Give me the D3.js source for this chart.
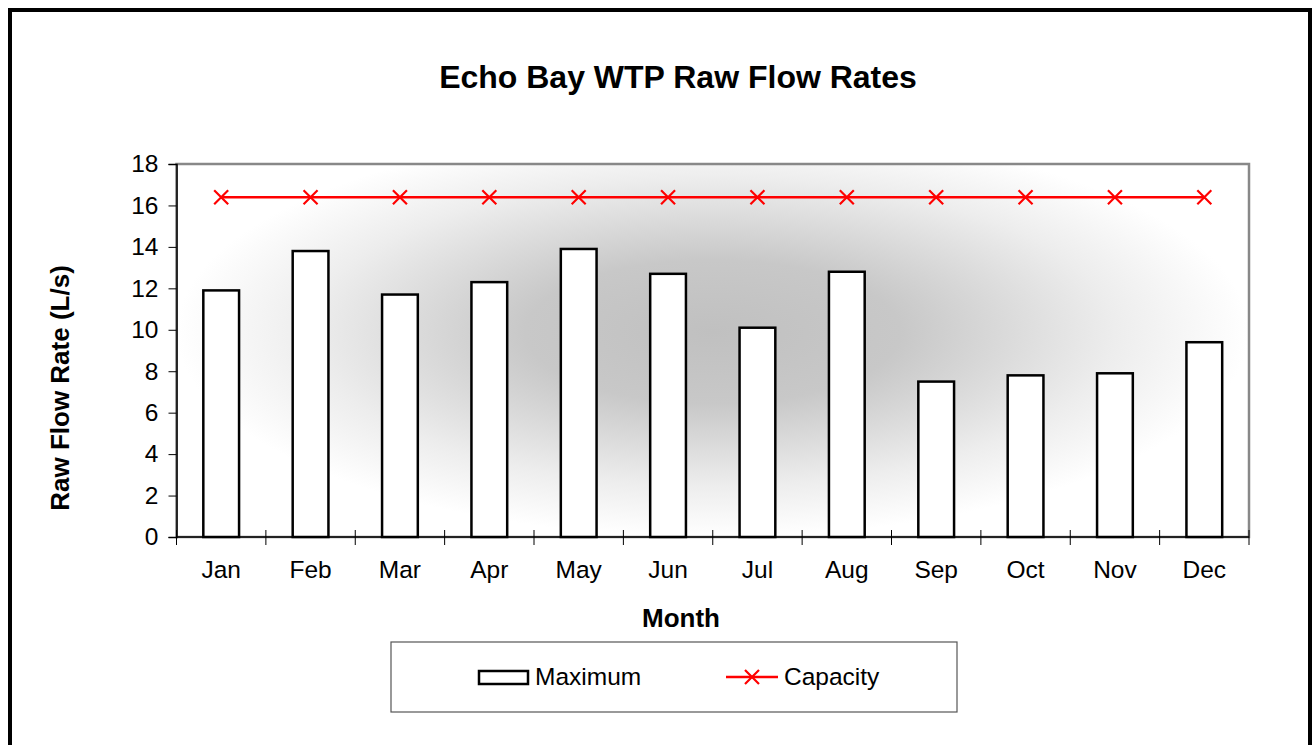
<!DOCTYPE html>
<html>
<head>
<meta charset="utf-8">
<script src="https://cdn.jsdelivr.net/npm/d3@7"></script>
<style>
    body { margin: 0; background: #fff; }
    svg { display: block; font-family: "Liberation Sans", Arial, sans-serif; }
    .axis path, .axis line { stroke: #000; }
    .axis text { font-size: 24.5px; fill: #000; }
</style>
</head>
<body>
<script>
// chart data
var months = ["Jan", "Feb", "Mar", "Apr", "May", "Jun", "Jul", "Aug", "Sep", "Oct", "Nov", "Dec"];
var maximum = [11.9, 13.8, 11.7, 12.3, 13.9, 12.7, 10.1, 12.8, 7.5, 7.8, 7.9, 9.4];
var capacity = [16.4, 16.4, 16.4, 16.4, 16.4, 16.4, 16.4, 16.4, 16.4, 16.4, 16.4, 16.4];
var yTicks = [0, 2, 4, 6, 8, 10, 12, 14, 16, 18];

var w = 1314,
    h = 745;

var svg = d3.select("body")
    .append("svg")
    .attr("width", w)
    .attr("height", h);

// outer chart border
svg.append("rect")
    .attr("x", 10)
    .attr("y", 10)
    .attr("width", 1300)
    .attr("height", 760)
    .attr("fill", "#fff")
    .attr("stroke", "#000")
    .attr("stroke-width", 4);

// plot area edges
var pLeft = 176.5, pRight = 1249, pTop = 164, pBottom = 537;

var x = d3.scaleBand()
    .domain(months)
    .range([pLeft, pRight])
    .paddingInner(0.6)
    .paddingOuter(0.3);

var xb = d3.scaleLinear()
    .domain([0, months.length])
    .range([pLeft, pRight]);

var y = d3.scaleLinear()
    .domain([0, 18])
    .range([pBottom, pTop]);

// plot area background gradient
var defs = svg.append("defs");
var grad = defs.append("radialGradient")
    .attr("id", "bg")
    .attr("cx", "0.5").attr("cy", "0.45")
    .attr("r", "0.5")
    .attr("gradientTransform", "translate(0.5,0.45) scale(1,1.1) translate(-0.5,-0.45)");
grad.append("stop").attr("offset", "0").attr("stop-color", "#c0c0c0");
grad.append("stop").attr("offset", "0.35").attr("stop-color", "#c8c8c8");
grad.append("stop").attr("offset", "0.75").attr("stop-color", "#ededed");
grad.append("stop").attr("offset", "1").attr("stop-color", "#ffffff");

svg.append("rect")
    .attr("x", pLeft)
    .attr("y", pTop)
    .attr("width", pRight - pLeft)
    .attr("height", pBottom - pTop)
    .attr("fill", "url(#bg)")
    .attr("stroke", "#888")
    .attr("stroke-width", 2.5);

// bars
svg.selectAll(".bar")
    .data(maximum)
    .enter()
    .append("rect")
    .attr("class", "bar")
    .attr("x", function(d, i){ return x(months[i]); })
    .attr("y", function(d){ return y(d); })
    .attr("width", x.bandwidth())
    .attr("height", function(d){ return y(0) - y(d); })
    .attr("fill", "#fff")
    .attr("stroke", "#000")
    .attr("stroke-width", 2.5);

// y axis
var yAxis = svg.append("g")
    .attr("class", "axis")
    .attr("transform", "translate(" + pLeft + ",0)")
    .call(d3.axisLeft(y).tickValues(yTicks).tickSize(8).tickPadding(10));
yAxis.select(".domain").attr("stroke-width", 1.5);

// x axis: ticks between categories, crossing the line
var xAxis = svg.append("g")
    .attr("class", "axis")
    .attr("transform", "translate(0," + pBottom + ")");
xAxis.append("line")
    .attr("x1", pLeft).attr("x2", pRight)
    .attr("stroke", "#000")
    .attr("stroke-width", 1.5);
xAxis.selectAll(".xtick")
    .data(d3.range(months.length + 1))
    .enter()
    .append("line")
    .attr("class", "xtick")
    .attr("x1", function(d){ return xb(d); })
    .attr("x2", function(d){ return xb(d); })
    .attr("y1", -7)
    .attr("y2", 8);
xAxis.selectAll(".xlab")
    .data(months)
    .enter()
    .append("text")
    .attr("class", "xlab")
    .attr("x", function(d){ return x(d) + x.bandwidth() / 2; })
    .attr("y", 41)
    .attr("text-anchor", "middle")
    .text(function(d){ return d; });

// capacity line
var line = d3.line()
    .x(function(d, i){ return x(months[i]) + x.bandwidth() / 2; })
    .y(function(d){ return y(d); });

svg.append("path")
    .datum(capacity)
    .attr("d", line)
    .attr("fill", "none")
    .attr("stroke", "#ff0000")
    .attr("stroke-width", 2.5);

var s = 7;
var cross = "M" + (-s) + "," + (-s) + "L" + s + "," + s + "M" + (-s) + "," + s + "L" + s + "," + (-s);
svg.selectAll(".mark")
    .data(capacity)
    .enter()
    .append("path")
    .attr("class", "mark")
    .attr("transform", function(d, i){
        return "translate(" + (x(months[i]) + x.bandwidth() / 2) + "," + y(d) + ")";
    })
    .attr("d", cross)
    .attr("stroke", "#ff0000")
    .attr("stroke-width", 2.2);

// titles
svg.append("text")
    .attr("x", 678)
    .attr("y", 88)
    .attr("text-anchor", "middle")
    .style("font-size", "32px")
    .style("font-weight", "bold")
    .text("Echo Bay WTP Raw Flow Rates");

svg.append("text")
    .attr("x", 681)
    .attr("y", 627)
    .attr("text-anchor", "middle")
    .style("font-size", "26px")
    .style("font-weight", "bold")
    .text("Month");

svg.append("text")
    .attr("transform", "translate(69,388) rotate(-90)")
    .attr("text-anchor", "middle")
    .style("font-size", "26px")
    .style("font-weight", "bold")
    .text("Raw Flow Rate (L/s)");

// legend
var legend = svg.append("g");
legend.append("rect")
    .attr("x", 391)
    .attr("y", 642)
    .attr("width", 566)
    .attr("height", 70)
    .attr("fill", "#fff")
    .attr("stroke", "#555")
    .attr("stroke-width", 1.2);
legend.append("rect")
    .attr("x", 479)
    .attr("y", 671)
    .attr("width", 49)
    .attr("height", 13)
    .attr("fill", "#fff")
    .attr("stroke", "#000")
    .attr("stroke-width", 2.5);
legend.append("text")
    .attr("x", 535)
    .attr("y", 685)
    .style("font-size", "24.5px")
    .text("Maximum");
legend.append("line")
    .attr("x1", 726).attr("x2", 778)
    .attr("y1", 677).attr("y2", 677)
    .attr("stroke", "#ff0000")
    .attr("stroke-width", 2.5);
legend.append("path")
    .attr("transform", "translate(752,677)")
    .attr("d", cross)
    .attr("stroke", "#ff0000")
    .attr("stroke-width", 2.2);
legend.append("text")
    .attr("x", 784)
    .attr("y", 685)
    .style("font-size", "24.5px")
    .text("Capacity");
</script>
</body>
</html>
